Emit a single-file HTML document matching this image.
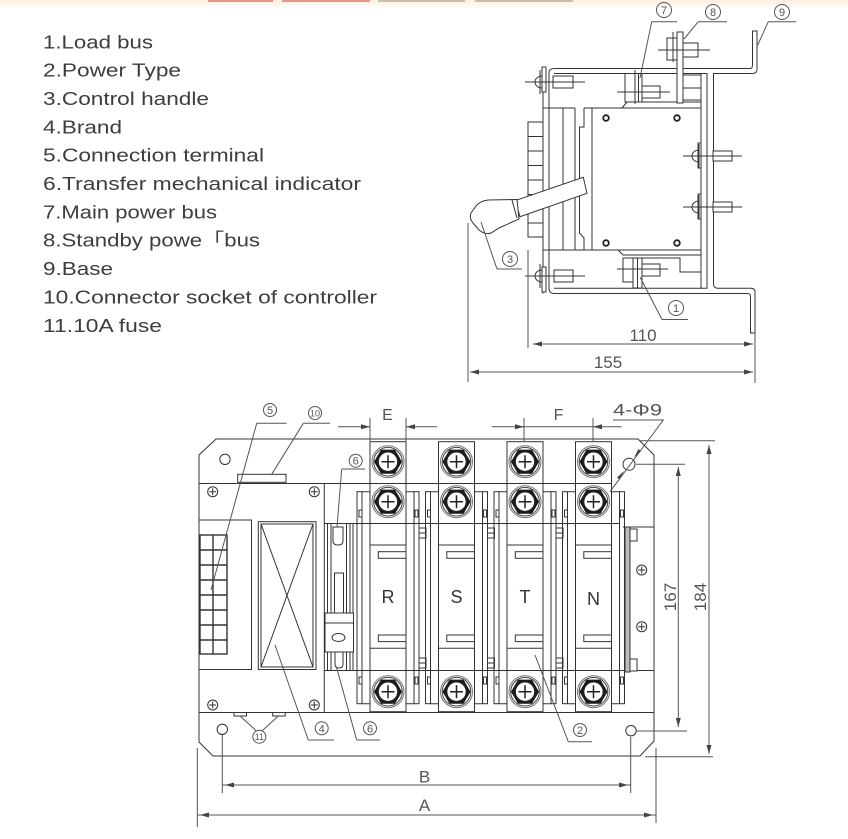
<!DOCTYPE html>
<html><head><meta charset="utf-8"><style>
html,body{margin:0;padding:0;background:#fff;}
svg{display:block;}
</style></head><body>
<svg width="848" height="839" viewBox="0 0 848 839" xmlns="http://www.w3.org/2000/svg" font-family="'Liberation Sans', Arial, sans-serif">
<defs>
<linearGradient id="bg" x1="0" y1="0" x2="0" y2="1"><stop offset="0" stop-color="#fbeedd"/><stop offset="1" stop-color="#ffffff"/></linearGradient>
<g id="scr">
 <circle r="16" fill="#fff" stroke="#777" stroke-width="1"/>
 <circle r="14.3" fill="none" stroke="#444" stroke-width="1"/>
 <polygon points="14,0 7,12.1 -7,12.1 -14,0 -7,-12.1 7,-12.1" fill="#1a1a1a"/>
 <circle r="9.8" fill="#fff" stroke="#222" stroke-width="1.3"/>
 <path d="M-6.5 0H6.5M0 -6.5V6.5" stroke="#222" stroke-width="1.5" fill="none"/>
</g>
<g id="ps"><circle r="5" fill="#fff" stroke="#333"/><path d="M-3.5 0H3.5M0 -3.5V3.5" stroke="#333" fill="none"/></g>
<g id="col" fill="none" stroke="#333" stroke-width="1">
 <rect x="0" y="441.7" width="36" height="270"/>
 <path d="M0 545H36M0 648.3H36"/>
 <rect x="8.3" y="551.7" width="27.7" height="6.6"/>
 <rect x="8.3" y="635" width="27.7" height="6.6"/>
 <rect x="-13" y="491.7" width="5" height="212"/>
 <rect x="44" y="491.7" width="5" height="212"/>
 <path d="M-8 491.7H0M36 491.7H44M-8 703.7H0M36 703.7H44"/>
 <rect x="-11" y="510" width="3" height="7"/>
 <rect x="45" y="510" width="3" height="7"/>
 <rect x="-11" y="677" width="3" height="7"/>
 <rect x="45" y="677" width="3" height="7"/>
</g>
</defs>
<rect width="848" height="839" fill="#fff"/>
<rect width="848" height="9" fill="url(#bg)"/>
<rect x="208" y="0" width="65" height="2" fill="#e8948a"/>
<rect x="282" y="0" width="88" height="2" fill="#e8948a"/>
<rect x="378" y="0" width="87" height="2" fill="#cbbdab"/>
<rect x="475" y="0" width="98" height="2" fill="#cbbdab"/>

<!-- Legend -->
<g font-size="18.5" fill="#3d3d3d" font-family="'Liberation Sans', 'Noto Sans CJK SC', sans-serif">
<text x="43" y="48.3" textLength="110" lengthAdjust="spacingAndGlyphs">1.Load bus</text>
<text x="43" y="76.7" textLength="138" lengthAdjust="spacingAndGlyphs">2.Power Type</text>
<text x="43" y="105" textLength="166" lengthAdjust="spacingAndGlyphs">3.Control handle</text>
<text x="43" y="133.3" textLength="79" lengthAdjust="spacingAndGlyphs">4.Brand</text>
<text x="43" y="161.7" textLength="221" lengthAdjust="spacingAndGlyphs">5.Connection terminal</text>
<text x="43" y="190" textLength="318" lengthAdjust="spacingAndGlyphs">6.Transfer mechanical indicator</text>
<text x="43" y="218.4" textLength="174" lengthAdjust="spacingAndGlyphs">7.Main power bus</text>
<text x="43" y="246.7" textLength="217" lengthAdjust="spacingAndGlyphs">8.Standby powe「bus</text>
<text x="43" y="275" textLength="70" lengthAdjust="spacingAndGlyphs">9.Base</text>
<text x="43" y="303.4" textLength="334" lengthAdjust="spacingAndGlyphs">10.Connector socket of controller</text>
<text x="43" y="331.8" textLength="119" lengthAdjust="spacingAndGlyphs">11.10A fuse</text>
</g>

<!-- Side view -->
<g fill="none" stroke="#333" stroke-width="1">
 <path d="M549 288 L549 73 Q549 68.5 554 68.5 L750 68.5 Q752.5 68.5 752.5 65 L752.5 31 L757 31 L757 69 Q757 73.5 752.5 73.5 L713.5 73.5 L713.5 284 Q713.5 288.3 718 288.3 L751 288.3 Q755 288.3 755 292 L755 333 L750.5 333 L750.5 296 Q750.5 293.5 747 293.5 L554 293.5 Q549 293.5 549 288 Z"/>
 <path d="M554 73.5 L707 73.5 L707 288.3 L554 288.3"/>
 <path d="M543 67 L543 293.5"/>
 <path d="M701 73.5 L701 288.3"/>
 <rect x="528" y="122" width="15" height="115"/>
 <path d="M528 136.5H543M528 151H543M528 165.5H543M528 180H543M528 194.5H543M528 209H543M528 223H543"/>
 <path d="M543 108H575M563 108V250M575 108V250M543 250H701"/>
 <path d="M584 108H701M584 108V127H579.5V233L584 238V250M592 108V250"/>
 <path d="M627 102H701M627 102L622 108"/>
 <path d="M618 250L623 255H701M642 258H680V272H701"/>
 <rect x="683" y="75" width="18" height="25"/>
 <path d="M683 88H701"/>
</g>
<g fill="#fff" stroke="#222" stroke-width="1.8">
 <circle cx="606" cy="118" r="2.8"/><circle cx="677" cy="118" r="2.8"/>
 <circle cx="606" cy="243" r="2.8"/><circle cx="677" cy="243" r="2.8"/>
</g>
<g fill="#fff" stroke="#333" stroke-width="1">
 <path d="M542 76 A7 6 0 0 0 542 88 Z"/>
 <rect x="542" y="67" width="4" height="25"/>
 <rect x="553" y="76" width="20" height="12"/>
 <path d="M525 82H585M540 70V94" fill="none"/>
 <path d="M542 270 A7 6 0 0 0 542 282 Z"/>
 <rect x="542" y="267" width="4" height="25"/>
 <rect x="554" y="270" width="19" height="12"/>
 <path d="M525 276H585M540 264V288" fill="none"/>
 <rect x="625" y="73.5" width="10" height="28.5"/>
 <rect x="635" y="73.5" width="3.5" height="28.5"/>
 <rect x="638.5" y="73.5" width="3.5" height="28.5"/>
 <rect x="642" y="86" width="18" height="12"/>
 <path d="M617 92H670M635 70V104" fill="none"/>
 <rect x="677" y="32" width="6" height="71"/>
 <rect x="667" y="38" width="10" height="22"/>
 <rect x="683" y="43" width="15" height="14"/>
 <path d="M658 50H710M673 32V62" fill="none"/>
 <rect x="623" y="258" width="10" height="24"/>
 <rect x="633" y="258" width="4.5" height="30"/>
 <rect x="637.5" y="258" width="4.5" height="30"/>
 <rect x="642" y="264" width="18" height="12"/>
 <path d="M617 269H668" fill="none"/>
 <path d="M699 150 A7 6 0 0 0 699 162 Z"/>
 <rect x="698" y="143" width="3" height="25"/>
 <rect x="713" y="151" width="19" height="10"/>
 <path d="M683 156H742M699 144V168" fill="none"/>
 <path d="M699 201 A7 6 0 0 0 699 213 Z"/>
 <rect x="698" y="194" width="3" height="25"/>
 <rect x="713" y="202" width="19" height="10"/>
 <path d="M683 207H742M699 195V219" fill="none"/>
 <polygon points="515,200.7 583.3,177.3 587,193.3 520,216.7"/>
 <path d="M517 199.5 L488 200 Q480 201 476 206 L471 213 Q469 218 473 223 L479 230 Q485 235 491 233 L499 228 L519 219 Z"/>
 <path d="M512 200 L517 218" fill="none"/>
</g>
<g fill="none" stroke="#555" stroke-width="1">
 <circle cx="664" cy="10" r="7.5"/><path d="M651.7 21.7H677M651.7 21.7L640 78"/>
 <circle cx="713" cy="12" r="7.5"/><path d="M698.3 21.7H727M698.3 21.7L684 39"/>
 <circle cx="782" cy="12" r="7.5"/><path d="M768.3 21.7H796M768.3 21.7L757.7 45"/>
 <circle cx="510" cy="259" r="7.5"/><path d="M497 269H522M497 269L481 222"/>
 <circle cx="676" cy="308" r="7.5"/><path d="M662 319.5H688M662 319.5L640 277"/>
</g>
<g font-size="11" fill="#555" text-anchor="middle">
 <text x="664" y="14">7</text><text x="713" y="16">8</text><text x="782" y="16">9</text>
 <text x="510" y="263">3</text><text x="676" y="312">1</text>
</g>
<g stroke="#555" stroke-width="1" fill="none">
 <path d="M528 250V348M755 333V383M468 223V382M533 344H753M470 372H753"/>
</g>
<g fill="#444">
 <polygon points="533,344 542,341.5 542,346.5"/><polygon points="753,344 744,341.5 744,346.5"/>
 <polygon points="470,372 479,369.5 479,374.5"/><polygon points="753,372 744,369.5 744,374.5"/>
</g>
<g font-size="17" fill="#555" text-anchor="middle">
 <text x="643" y="341">110</text><text x="608" y="368">155</text>
</g>

<!-- Front view -->
<g fill="none" stroke="#333" stroke-width="1">
 <polygon points="216,439 638,439 654,455 654,741 640,756 213,756 199,742 199,455"/>
 <path d="M199 483.5H611M324 523.5H620M623 527H654M324 670.5H654M199 712.5H654M324.3 483.5V712.5"/>
 <rect x="237.7" y="474.3" width="48.3" height="8"/>
 <rect x="199" y="520" width="52.5" height="149.5"/>
 <g stroke-width="1.4">
  <rect x="200" y="535" width="27" height="119"/>
  <path d="M213 535V654M200 550H227M200 565H227M200 580H227M200 595H227M200 610H227M200 625H227M200 640H227"/>
 </g>
 <rect x="258.3" y="521.7" width="57.7" height="147.8"/>
 <rect x="261" y="524" width="52" height="143"/>
 <path d="M261 524L313 667M313 524L261 667"/>
 <path d="M327.5 523.5V613M331 523.5V613M346.5 523.5V613M350 523.5V613M353 523.5V613M327.5 652V670.5M331 652V670.5M346.5 652V670.5M350 652V670.5M353 652V670.5"/>
 <path d="M333 527H343V541Q343 545 338 545Q333 545 333 541Z" fill="#fff"/>
 <rect x="334.5" y="573" width="9" height="40" fill="#fff"/>
 <rect x="325" y="613" width="28.5" height="39" fill="#fff"/>
 <path d="M325 623H353.5"/>
 <ellipse cx="338.5" cy="637.5" rx="6.5" ry="4"/>
 <path d="M335 652H343V664Q343 668 339 668Q335 668 335 664Z" fill="#fff"/>
 <rect x="625" y="527" width="5" height="145" fill="#bbb"/>
 <rect x="630" y="529" width="7" height="12" fill="#fff"/>
 <rect x="630" y="659" width="7" height="12" fill="#fff"/>
 <rect x="419" y="528" width="7" height="10"/><rect x="419" y="658" width="7" height="10"/>
 <rect x="487.5" y="528" width="7" height="10"/><rect x="487.5" y="658" width="7" height="10"/>
 <rect x="556" y="528" width="7" height="10"/><rect x="556" y="658" width="7" height="10"/>
 <path d="M419 533H426M487.5 533H494.5M556 533H563M419 663H426M487.5 663H494.5M556 663H563"/>
 <rect x="234" y="712.5" width="12.5" height="3.5" fill="#fff"/>
 <rect x="272.7" y="712.5" width="12.5" height="3.5" fill="#fff"/>
 <circle cx="225" cy="459.3" r="5.2"/>
 <circle cx="222.3" cy="729.3" r="5.2"/>
 <circle cx="631" cy="730.7" r="5.2"/>
 <circle cx="629" cy="464.3" r="6"/>
</g>
<use href="#col" x="370"/>
<use href="#col" x="438.5"/>
<use href="#col" x="507"/>
<use href="#col" x="575.5"/>
<use href="#scr" x="388" y="461.7"/><use href="#scr" x="388" y="501.7"/><use href="#scr" x="388" y="691.7"/>
<use href="#scr" x="456.5" y="461.7"/><use href="#scr" x="456.5" y="501.7"/><use href="#scr" x="456.5" y="691.7"/>
<use href="#scr" x="525" y="461.7"/><use href="#scr" x="525" y="501.7"/><use href="#scr" x="525" y="691.7"/>
<use href="#scr" x="593.5" y="461.7"/><use href="#scr" x="593.5" y="501.7"/><use href="#scr" x="593.5" y="691.7"/>
<use href="#ps" x="212.7" y="491.7"/><use href="#ps" x="314.3" y="491.7"/>
<use href="#ps" x="212.7" y="705"/><use href="#ps" x="314.3" y="705"/>
<use href="#ps" x="641.7" y="570"/><use href="#ps" x="641.7" y="626.7"/>
<g font-size="18" fill="#333" text-anchor="middle">
 <text x="388" y="603">R</text><text x="456.5" y="603">S</text><text x="525" y="603">T</text><text x="593.5" y="605">N</text>
</g>

<g fill="none" stroke="#555" stroke-width="1">
 <circle cx="270" cy="410" r="6.5"/><path d="M256.7 423.3H286.7M256.7 423.3L211 590"/>
 <circle cx="315" cy="413" r="6.5"/><path d="M303.3 423.3H330M303.3 423.3L271.7 474.3"/>
 <circle cx="355.7" cy="460.7" r="6.5"/><path d="M341.7 469H365M341.7 469L337 527"/>
 <circle cx="321.7" cy="728.3" r="6.5"/><path d="M308.3 740H334M308.3 740L275 645"/>
 <circle cx="370" cy="728.3" r="6.5"/><path d="M356.7 740H380M356.7 740L336.7 668"/>
 <circle cx="259.3" cy="736.7" r="6.5"/><path d="M256 730.5L240 716M262.5 730.5L278.3 716"/>
 <circle cx="580" cy="730" r="6.5"/><path d="M568.3 741.7H592M568.3 741.7L535 655"/>
 <path d="M613 420H663.3L610 491.7"/>
 <path d="M636 464.3H685"/>
</g>
<g fill="#444">
 <polygon points="634,457.5 638.5,449 641,451"/>
 <polygon points="624,471 619.5,479.5 617,477.5"/>
</g>
<g font-size="11" fill="#555" text-anchor="middle">
 <text x="270" y="414">5</text>
 <text x="315" y="416.5" font-size="9">10</text>
 <text x="355.7" y="464.7">6</text>
 <text x="321.7" y="732.3">4</text>
 <text x="370" y="732.3">6</text>
 <text x="259.3" y="740" font-size="9">11</text>
 <text x="580" y="734">2</text>
</g>

<g stroke="#555" stroke-width="1" fill="none">
 <path d="M370 418V441M406 418V441M338 426.7H370M406 426.7H437"/>
 <path d="M524 418V441M593 418V441M491.7 426.7H621.7"/>
 <path d="M640 440.7H715M645 756.7H713M636.7 731H687"/>
 <path d="M678.3 467V727M709 445V754"/>
 <path d="M222.3 735V793M630.7 737V793M222.3 785H630.7"/>
 <path d="M197.3 748V827M656 748V823M197.3 815H656"/>
</g>
<g fill="#444">
 <polygon points="370,426.7 361,424.2 361,429.2"/><polygon points="406,426.7 415,424.2 415,429.2"/>
 <polygon points="524,426.7 515,424.2 515,429.2"/><polygon points="593,426.7 602,424.2 602,429.2"/>
 <polygon points="678.3,467 675.8,476 680.8,476"/><polygon points="678.3,727 675.8,718 680.8,718"/>
 <polygon points="709,445 706.5,454 711.5,454"/><polygon points="709,754 706.5,745 711.5,745"/>
 <polygon points="225,785 234,782.5 234,787.5"/><polygon points="628,785 619,782.5 619,787.5"/>
 <polygon points="200,815 209,812.5 209,817.5"/><polygon points="653,815 644,812.5 644,817.5"/>
</g>
<g font-size="16" fill="#555" text-anchor="middle">
 <text x="387.5" y="420">E</text>
 <text x="558.5" y="420">F</text>
 <text x="637.5" y="415.5" font-size="16.5" textLength="49" lengthAdjust="spacingAndGlyphs">4-Φ9</text>
 <text x="424.5" y="782.5" font-size="17">B</text>
 <text x="424.5" y="811" font-size="17">A</text>
 <text transform="translate(676 597) rotate(-90)" font-size="17">167</text>
 <text transform="translate(706 597) rotate(-90)" font-size="17">184</text>
</g>
</svg>
</body></html>
